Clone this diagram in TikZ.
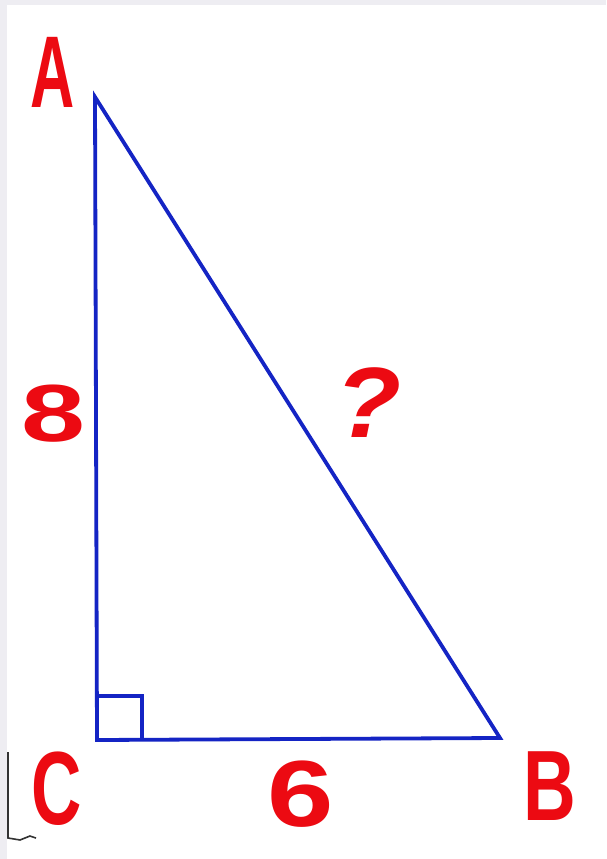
\documentclass[tikz,border=0pt]{standalone}
\usepackage{fontspec}
\setmainfont{Liberation Sans}
\definecolor{tri}{HTML}{1424C4}
\definecolor{lab}{HTML}{EC0A12}
\definecolor{frame}{HTML}{EEEDF2}
\begin{document}
\begin{tikzpicture}[x=1pt,y=-1pt,
  side/.style={draw=tri,line width=3.8pt,line join=miter},
  lbl/.style={text=lab,inner sep=0pt,anchor=center,font=\bfseries}]
\useasboundingbox (0,0) rectangle (606,859);
\fill[frame] (0,0) rectangle (606,859);
\fill[white] (7,5) rectangle (606,859);
% stray mark bottom-left
\draw[gray!40!black,line width=1.6pt] (8,752) -- (8,838) -- (20,840) -- (30,836) -- (36,838);
% vertices
\coordinate (A) at (95,97);
\coordinate (C) at (97,740);
\coordinate (B) at (500,738);
\coordinate (S1) at (98,696);
\coordinate (S2) at (142,696);
\coordinate (S3) at (142,740);
\draw[side] (A) -- (C) -- (B) -- cycle;
\draw[draw=tri,line width=3.4pt] (S1) -- (S2) -- (S3);
% labels
\node[lbl] (la) at (53,72) {\scalebox{0.6}[1]{\fontsize{102}{102}\selectfont A}};
\node[lbl] (lc) at (57,789) {\scalebox{0.67}[1]{\fontsize{104}{104}\selectfont C}};
\node[lbl] (lb) at (550,786) {\scalebox{0.73}[1]{\fontsize{100}{100}\selectfont B}};
\node[lbl] (l8) at (53,414) {\scalebox{1.42}[1]{\fontsize{81}{81}\selectfont 8}};
\node[lbl] (l6) at (301,794) {\scalebox{1.27}[1]{\fontsize{94}{94}\selectfont 6}};
\node[lbl] (lq) at (368,403) {\scalebox{1.08}[1]{\fontsize{100}{100}\selectfont\itshape ?}};
\end{tikzpicture}
\end{document}
